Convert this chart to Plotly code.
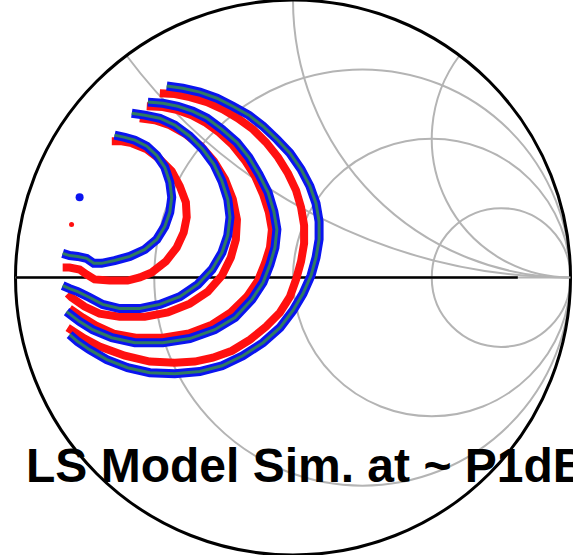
import numpy as np
import plotly.graph_objects as go

# Load-pull contours, given as reflection coefficient (real, imag)
blueA_re = [-0.643,-0.606,-0.570,-0.527,-0.491,-0.462,-0.444,-0.437,-0.444,-0.462,-0.491,-0.534,-0.588,-0.643,-0.690,-0.718,-0.744,-0.776,-0.805,-0.830]
blueA_im = [0.513,0.505,0.495,0.473,0.440,0.397,0.343,0.289,0.235,0.184,0.137,0.101,0.076,0.061,0.051,0.051,0.069,0.076,0.079,0.087]

redA_re = [-0.653,-0.617,-0.581,-0.527,-0.480,-0.437,-0.408,-0.386,-0.383,-0.394,-0.419,-0.458,-0.509,-0.552,-0.596,-0.661,-0.715,-0.744,-0.769,-0.805,-0.830]
redA_im = [0.491,0.491,0.484,0.462,0.426,0.383,0.329,0.271,0.217,0.162,0.108,0.058,0.018,0.000,-0.011,-0.011,-0.007,0.011,0.029,0.036,0.036]

blueB_re = [-0.581,-0.534,-0.480,-0.426,-0.372,-0.325,-0.285,-0.256,-0.235,-0.227,-0.235,-0.256,-0.292,-0.343,-0.408,-0.480,-0.552,-0.625,-0.686,-0.733,-0.776,-0.805,-0.830]
blueB_im = [0.592,0.585,0.574,0.549,0.509,0.462,0.408,0.347,0.282,0.217,0.152,0.090,0.029,-0.025,-0.069,-0.097,-0.112,-0.112,-0.097,-0.072,-0.051,-0.040,-0.029]

redB_re = [-0.552,-0.498,-0.444,-0.386,-0.332,-0.285,-0.245,-0.217,-0.202,-0.206,-0.224,-0.256,-0.307,-0.372,-0.451,-0.534,-0.625,-0.697,-0.751,-0.798,-0.812]
redB_im = [0.574,0.567,0.549,0.516,0.473,0.419,0.354,0.282,0.209,0.137,0.072,0.007,-0.051,-0.094,-0.126,-0.141,-0.141,-0.130,-0.105,-0.072,-0.058]

blueC_re = [-0.523,-0.469,-0.415,-0.361,-0.310,-0.256,-0.202,-0.159,-0.123,-0.090,-0.069,-0.058,-0.065,-0.083,-0.108,-0.148,-0.209,-0.282,-0.372,-0.469,-0.570,-0.653,-0.722,-0.769,-0.816]
blueC_im = [0.632,0.628,0.617,0.599,0.574,0.534,0.487,0.433,0.372,0.307,0.238,0.173,0.108,0.047,-0.018,-0.079,-0.144,-0.188,-0.220,-0.235,-0.235,-0.217,-0.188,-0.159,-0.123]

redC_re = [-0.527,-0.469,-0.415,-0.365,-0.318,-0.267,-0.217,-0.173,-0.137,-0.108,-0.087,-0.076,-0.083,-0.101,-0.126,-0.166,-0.224,-0.292,-0.375,-0.469,-0.567,-0.646,-0.711,-0.758,-0.805]
redC_im = [0.617,0.614,0.603,0.585,0.560,0.523,0.477,0.422,0.365,0.300,0.235,0.173,0.108,0.051,-0.011,-0.069,-0.126,-0.170,-0.202,-0.217,-0.217,-0.202,-0.173,-0.144,-0.112]

blueD_re = [-0.455,-0.397,-0.336,-0.274,-0.217,-0.159,-0.108,-0.058,-0.011,0.029,0.061,0.083,0.094,0.094,0.083,0.065,0.036,0.000,-0.047,-0.108,-0.181,-0.256,-0.336,-0.426,-0.516,-0.596,-0.671,-0.733,-0.776,-0.805]
blueD_im = [0.690,0.682,0.668,0.646,0.617,0.585,0.545,0.498,0.448,0.390,0.329,0.267,0.202,0.137,0.072,0.007,-0.058,-0.119,-0.181,-0.235,-0.282,-0.318,-0.339,-0.347,-0.343,-0.325,-0.296,-0.260,-0.231,-0.206]

redD_re = [-0.480,-0.426,-0.372,-0.310,-0.253,-0.199,-0.144,-0.097,-0.054,-0.018,0.011,0.029,0.040,0.040,0.029,0.011,-0.011,-0.047,-0.097,-0.155,-0.220,-0.289,-0.354,-0.426,-0.516,-0.606,-0.697,-0.751,-0.812]
redD_im = [0.664,0.661,0.650,0.632,0.606,0.574,0.534,0.487,0.433,0.375,0.314,0.253,0.188,0.123,0.058,-0.007,-0.069,-0.126,-0.177,-0.224,-0.264,-0.289,-0.303,-0.307,-0.303,-0.282,-0.249,-0.220,-0.181]

# optimum points
blue_opt_re, blue_opt_im = [-0.769], [0.289]
red_opt_re, red_opt_im = [-0.798], [0.191]

# Smith grid values
resistance_grid = [1/3, 1, 3]
reactance_grid = [0.5, 1, 2]
axis_line_re = [-1.0, 0.81]

title_text = "LS Model Sim. at ~ P1dB"

BLUE = "#0a14f0"
GREEN = "#2f7a62"
RED = "#ff1010"


def to_z(re, im):
    g = np.asarray(re) + 1j * np.asarray(im)
    z = (1 + g) / (1 - g)
    return z.real, z.imag


fig = go.Figure()

# black real axis (partial)
zr, zi = to_z(axis_line_re, [0, 0])
fig.add_trace(go.Scattersmith(real=zr, imag=zi, mode="lines",
                              line=dict(color="black", width=2.5),
                              showlegend=False, hoverinfo="skip"))

for re, im in [(redA_re, redA_im), (redB_re, redB_im), (redC_re, redC_im), (redD_re, redD_im)]:
    zr, zi = to_z(re, im)
    fig.add_trace(go.Scattersmith(real=zr, imag=zi, mode="lines",
                                  line=dict(color=RED, width=8),
                                  showlegend=False))

for re, im in [(blueA_re, blueA_im), (blueB_re, blueB_im), (blueC_re, blueC_im), (blueD_re, blueD_im)]:
    zr, zi = to_z(re, im)
    fig.add_trace(go.Scattersmith(real=zr, imag=zi, mode="lines",
                                  line=dict(color=BLUE, width=9),
                                  showlegend=False))
    fig.add_trace(go.Scattersmith(real=zr, imag=zi, mode="lines",
                                  line=dict(color=GREEN, width=3),
                                  showlegend=False))

zr, zi = to_z(blue_opt_re, blue_opt_im)
fig.add_trace(go.Scattersmith(real=zr, imag=zi, mode="markers",
                              marker=dict(color=BLUE, size=8), showlegend=False))
zr, zi = to_z(red_opt_re, red_opt_im)
fig.add_trace(go.Scattersmith(real=zr, imag=zi, mode="markers",
                              marker=dict(color=RED, size=5), showlegend=False))

fig.update_layout(
    width=573, height=555,
    margin=dict(l=0, r=0, t=0, b=0),
    paper_bgcolor="white",
    smith=dict(
        domain=dict(x=[0.0227, 1.0], y=[0.0, 1.0]),
        bgcolor="white",
        realaxis=dict(tickvals=resistance_grid, showticklabels=False, ticks="",
                      gridcolor="#b4b4b4", gridwidth=2,
                      showline=True, linecolor="#b4b4b4", linewidth=2,
                      layer="below traces"),
        imaginaryaxis=dict(tickvals=reactance_grid, showticklabels=False, ticks="",
                           gridcolor="#b4b4b4", gridwidth=2,
                           showline=True, linecolor="black", linewidth=3,
                           layer="below traces"),
    ),
    annotations=[dict(
        text="<b>" + title_text + "</b>",
        xref="paper", yref="paper", x=24 / 573, y=1 - 465 / 555,
        xanchor="left", yanchor="middle", showarrow=False,
        font=dict(family="Liberation Sans, Arial, sans-serif", size=48, color="black"),
    )],
)

fig.write_html("out.html", config={"displayModeBar": False},
               post_script="document.body.style.margin='0px';document.body.style.overflow='hidden';")
